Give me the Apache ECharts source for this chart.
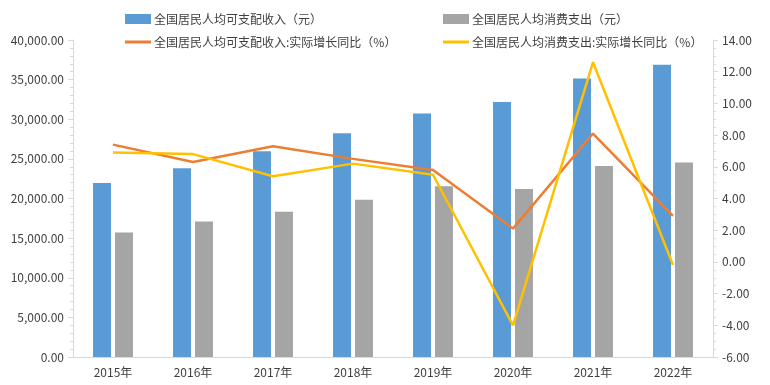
<!DOCTYPE html>
<html><head><meta charset="utf-8">
<script src="https://cdn.jsdelivr.net/npm/echarts@6/dist/echarts.min.js"></script>
<style>html,body{margin:0;padding:0;background:#fff}#c{width:770px;height:385px}</style>
</head><body><div id="c"></div>
<script>
const categories = ['2015年','2016年','2017年','2018年','2019年','2020年','2021年','2022年'];
const incomeValues = [21966, 23821, 25974, 28228, 30733, 32189, 35128, 36883];
const consumptionValues = [15712, 17111, 18322, 19853, 21559, 21210, 24100, 24538];
const incomeGrowth = [7.4, 6.3, 7.3, 6.5, 5.8, 2.1, 8.1, 2.9];
const consumptionGrowth = [6.9, 6.8, 5.4, 6.2, 5.5, -4.0, 12.6, -0.2];
const names = ['全国居民人均可支配收入（元）','全国居民人均消费支出（元）','全国居民人均可支配收入:实际增长同比（%）','全国居民人均消费支出:实际增长同比（%）'];

const font = '"Noto Sans CJK SC", "Microsoft YaHei", sans-serif';
const txt = {color:'#404040', fontSize:12, fontFamily:font};
const axisCol = '#d9d9d9';
const chart = echarts.init(document.getElementById('c'));
function leg(name, left, top, isLine){
  return {data:[name], left:left, top:top, itemWidth:26, itemHeight:isLine?3:10, itemGap:0,
    textStyle:{...txt, padding:[0,0,0,-2]}, icon:'rect', selectedMode:false};
}
const fmt = v => v.toLocaleString('en-US',{minimumFractionDigits:2, maximumFractionDigits:2});
chart.setOption({
  animation:false,
  legend:[leg(names[0],120,8,false), leg(names[1],438,8,false), leg(names[2],120,31,true), leg(names[3],438,31,true)],
  grid:{left:73, right:57, top:40, bottom:28},
  xAxis:{type:'category', data:categories,
    axisLine:{lineStyle:{color:axisCol}}, axisTick:{lineStyle:{color:axisCol}, length:5},
    axisLabel:{...txt, margin:9}},
  yAxis:[
    {type:'value', min:0, max:40000, interval:5000, splitLine:{show:false},
     axisLine:{show:true, lineStyle:{color:axisCol}}, axisTick:{show:true, length:5, lineStyle:{color:axisCol}},
     minorTick:{show:true, splitNumber:5, length:3, lineStyle:{color:axisCol}},
     axisLabel:{...txt, formatter:fmt, margin:9}},
    {type:'value', min:-6, max:14, interval:2, splitLine:{show:false},
     axisLine:{show:true, lineStyle:{color:axisCol}}, axisTick:{show:true, length:5, lineStyle:{color:axisCol}},
     minorTick:{show:true, splitNumber:4, length:3, lineStyle:{color:axisCol}},
     axisLabel:{...txt, formatter:v=>v.toFixed(2), margin:9}}
  ],
  series:[
    {name:names[0], type:'bar', data:incomeValues, barWidth:18, barGap:'22%', itemStyle:{color:'#5B9BD5'}},
    {name:names[1], type:'bar', data:consumptionValues, barWidth:18, barGap:'22%', itemStyle:{color:'#A5A5A5'}},
    {name:names[2], type:'line', yAxisIndex:1, data:incomeGrowth, showSymbol:false, symbol:'none',
     lineStyle:{color:'#ED7D31', width:2.5}, itemStyle:{color:'#ED7D31'}},
    {name:names[3], type:'line', yAxisIndex:1, data:consumptionGrowth, showSymbol:false, symbol:'none',
     lineStyle:{color:'#FFC000', width:2.5}, itemStyle:{color:'#FFC000'}}
  ]
});
</script></body></html>
